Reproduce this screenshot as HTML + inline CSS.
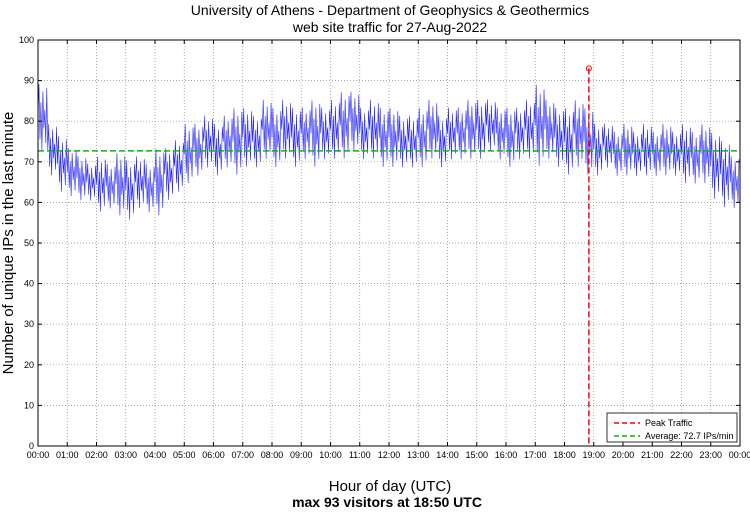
<!DOCTYPE html>
<html><head><meta charset="utf-8"><style>
body{margin:0;background:#fff;}
svg text{font-family:"Liberation Sans",sans-serif;}
</style></head><body>
<svg id="chart" width="750" height="511" viewBox="0 0 750 511" xmlns="http://www.w3.org/2000/svg">
<text x="390" y="15" font-size="14" text-anchor="middle">University of Athens - Department of Geophysics &amp; Geothermics</text>
<text x="390" y="32" font-size="14" text-anchor="middle">web site traffic for 27-Aug-2022</text>
<text transform="translate(13,243) rotate(-90)" font-size="15" text-anchor="middle">Number of unique IPs in the last minute</text>
<text x="390" y="491" font-size="15" text-anchor="middle">Hour of day (UTC)</text>
<text x="387" y="507" font-size="14" font-weight="bold" text-anchor="middle">max 93 visitors at 18:50 UTC</text>
<g id="grid"></g>
<g id="series"></g>
<g id="axes"></g>
<g id="legend">
<rect x="607" y="413" width="130" height="29" fill="#fff" stroke="#000" stroke-width="0.8"/>
<line x1="614" y1="423" x2="640" y2="423" stroke="#ff0000" stroke-width="1.5" stroke-dasharray="5,3"/>
<text x="645" y="426" font-size="9">Peak Traffic</text>
<line x1="614" y1="436" x2="640" y2="436" stroke="#00bb00" stroke-width="1.5" stroke-dasharray="5,3"/>
<text x="645" y="439" font-size="9">Average: 72.7 IPs/min</text>
</g>
</svg>
<script>
const hiVals=[90,80,77,74,72,70,72,70,73,71,72,70,74,74,76,80,80,82,80,82,84,84,82,86,84,86,84,84,86,84,86,88,88,84,86,84,84,82,82,84,86,82,84,84,86,86,86,84,84,84,86,90,86,84,84,86,84,80,80,78,80,78,80,78,80,78,80,78,80,78,76,72];
const loVals=[72,66,62,61,60,60,57,58,56,55,58,57,56,60,62,64,66,68,66,68,66,68,68,70,68,70,68,70,68,70,70,70,72,70,70,68,68,68,68,68,70,68,70,70,70,70,72,70,68,70,70,68,70,68,66,68,66,66,68,66,66,66,66,66,66,66,64,64,64,60,58,58];
const yTicks=[0,10,20,30,40,50,60,70,80,90,100];
const xTickHours=[0,1,2,3,4,5,6,7,8,9,10,11,12,13,14,15,16,17,18,19,20,21,22,23,24];
const averageValue=72.7;
const peakValue=93;
const peakMinute=18*60+50;

const L=38,R=740,T=40,B=446,NS="http://www.w3.org/2000/svg";
const xs=m=>L+(R-L)*m/1440;
const ys=v=>B-(B-T)*v/100;
function mk(tag,attrs,parent){const e=document.createElementNS(NS,tag);for(const k in attrs)e.setAttribute(k,attrs[k]);parent.appendChild(e);return e;}
const grid=document.getElementById('grid'),axes=document.getElementById('axes'),series=document.getElementById('series');
yTicks.forEach(v=>{
 if(v>0&&v<100){const g=mk('line',{x1:L,x2:R,y1:ys(v),y2:ys(v),stroke:'#888','stroke-width':0.7,'stroke-dasharray':'1,2'},grid);
 
 }
 const t=mk('text',{x:L-4,y:ys(v)+3,'font-size':9,'text-anchor':'end'},axes);t.textContent=v;
 
 
 mk('line',{x1:L,x2:L+4,y1:ys(v),y2:ys(v),stroke:'#000'},axes);
 mk('line',{x1:R-4,x2:R,y1:ys(v),y2:ys(v),stroke:'#000'},axes);
});
xTickHours.forEach(h=>{
 const x=xs(h*60);
 if(h>0&&h<24){const g=mk('line',{x1:x,x2:x,y1:T,y2:B,stroke:'#888','stroke-width':0.7,'stroke-dasharray':'1,2'},grid);
 
 }
 const t=mk('text',{x:x,y:B+12,'font-size':9,'text-anchor':'middle'},axes);t.textContent=String(h).padStart(2,'0').replace('24','00')+':00';
 
 
 mk('line',{x1:x,x2:x,y1:B-4,y2:B,stroke:'#000'},axes);
 mk('line',{x1:x,x2:x,y1:T,y2:T+4,stroke:'#000'},axes);
});
const frame=mk('rect',{x:L,y:T,width:R-L,height:B-T,fill:'none',stroke:'#000','stroke-width':1},axes);



const pat=[0.5,0.95,0.2,0.7,0.05,0.85,0.35,0.6,0.15,0.9];
let pts=[];
const step=1440/hiVals.length;
hiVals.forEach((hi,i)=>{
 const lo=loVals[i];
 for(let k=0;k<pat.length;k++){
  const m=i*step+step*k/pat.length;
  const v=lo+(hi-lo)*pat[k];
  pts.push(xs(m).toFixed(2)+','+ys(v).toFixed(2));
 }
});
const line=mk('polyline',{points:pts.join(' '),fill:'none',stroke:'#2222ff','stroke-width':0.6,'stroke-linejoin':'round'},series);



const avg=mk('line',{x1:L,x2:R,y1:ys(averageValue),y2:ys(averageValue),stroke:'#00bb00','stroke-width':1.5,'stroke-dasharray':'6,3'},series);


const pk=mk('line',{x1:xs(peakMinute),x2:xs(peakMinute),y1:ys(peakValue),y2:B,stroke:'#ff0000','stroke-width':1.5,'stroke-dasharray':'6,3'},series);


const pm=mk('circle',{cx:xs(peakMinute),cy:ys(peakValue),r:2.5,fill:'none',stroke:'#ff0000','stroke-width':1},series);


</script>
</body></html>
